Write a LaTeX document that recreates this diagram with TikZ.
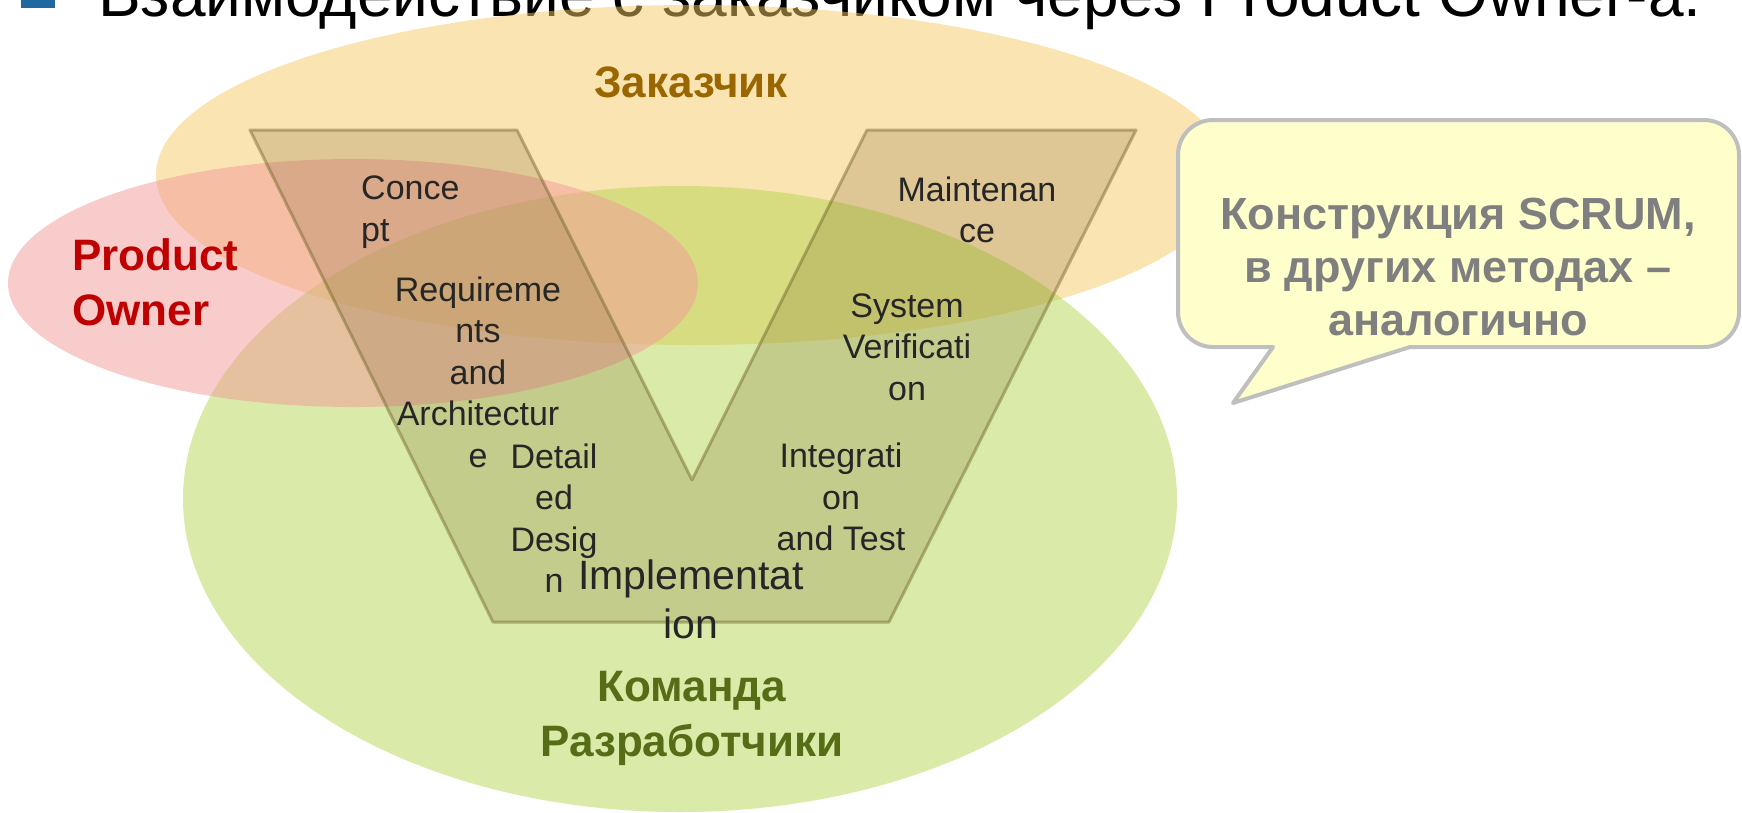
\documentclass[tikz,border=0pt]{standalone}
\usepackage{fontspec}
\setmainfont{Liberation Sans}
\definecolor{custfill}{RGB}{245,201,101}
\definecolor{ownerfill}{RGB}{243,153,153}
\definecolor{teamfill}{RGB}{181,213,81}
\definecolor{vfill}{RGB}{110,85,30}
\definecolor{vline}{RGB}{110,100,40}
\definecolor{custtext}{RGB}{153,102,0}
\definecolor{ownertext}{RGB}{192,0,0}
\definecolor{teamtext}{RGB}{86,108,22}
\definecolor{notefill}{RGB}{255,255,204}
\definecolor{noteline}{RGB}{191,191,191}
\definecolor{notetext}{RGB}{127,127,127}
\definecolor{phasetext}{RGB}{38,38,38}
\definecolor{bulletblue}{RGB}{31,105,160}
\begin{document}
\begin{tikzpicture}[x=1pt,y=-1pt,
  blob/.style={fill opacity=0.5},
  phase/.style={inner sep=0,text=phasetext,align=center,font=\fontsize{34}{41.5}\selectfont},
  role/.style={inner sep=0,align=center,font=\bfseries\fontsize{44}{55}\selectfont}]
\useasboundingbox (0,0) rectangle (1742,812);
\clip (0,0) rectangle (1742,812);
\fill[bulletblue] (21,-31) rectangle (55,8);
\node[anchor=base west,inner sep=0,font=\fontsize{64}{76}\selectfont] (title) at (98,16) {Взаимодействие с заказчиком через Product Owner-а.};
\fill[custfill,blob] (693,175) ellipse [x radius=537pt,y radius=170pt];
\fill[teamfill,blob] (680,499) ellipse [x radius=497pt,y radius=313pt];
\fill[ownerfill,blob] (353,283) ellipse [x radius=345pt,y radius=124pt];
\filldraw[fill=vfill,fill opacity=0.2,draw=vline,draw opacity=0.45,line width=3pt,line join=round] (250,130) -- (517,130) -- (692,480) -- (867,130) -- (1136,130) -- (889,622) -- (493,622) -- cycle;
\node[role,text=custtext,anchor=base] (cust) at (691,97) {Заказчик};
\node[role,text=ownertext,align=left,anchor=north west] (owner) at (72,238) {Product\\Owner};
\node[role,text=teamtext,anchor=north] (team) at (692,671) {Команда\\Разработчики};
\node[phase,align=left,anchor=west] (concept) at (361,212) {Conce\\pt};
\node[phase] (maint) at (977,210) {Maintenan\\ce};
\node[phase] (req) at (478,372) {Requireme\\nts\\and\\Architectur\\e};
\node[phase] (design) at (554,518) {Detail\\ed\\Desig\\n};
\node[phase] (sysver) at (907,347) {System\\Verificati\\on};
\node[phase] (integ) at (841,497) {Integrati\\on\\and Test};
\node[phase,font=\fontsize{41}{49}\selectfont] (impl) at (691,599) {Implementat\\ion};
\draw[fill=notefill,draw=noteline,line width=4pt,line join=round] (1233,403) -- (1410,347) [rounded corners=35pt] -- (1739,347) -- (1739,120) -- (1178,120) -- (1178,347) [sharp corners] -- (1273,347) -- cycle;
\node[role,text=notetext,font=\bfseries\fontsize{45}{53}\selectfont] (note) at (1458,267) {Конструкция SCRUM,\\в других методах –\\аналогично};
\end{tikzpicture}
\end{document}
